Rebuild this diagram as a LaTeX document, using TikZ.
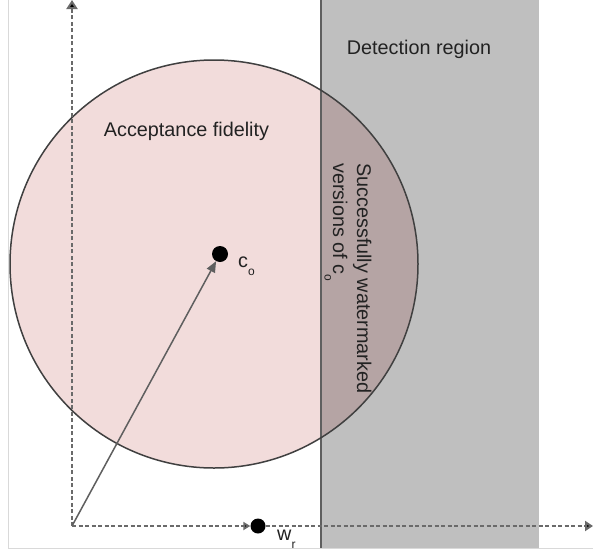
\documentclass[tikz,border=0pt]{standalone}
\usepackage{fontspec}
\setmainfont{Liberation Sans}
\usetikzlibrary{arrows.meta}
\definecolor{fidpink}{HTML}{F2DCDB}
\definecolor{axisgray}{HTML}{6A6A6A}
\definecolor{framegray}{HTML}{D9D9D9}
\definecolor{edgegray}{HTML}{5F5F5F}
\definecolor{inkdark}{HTML}{222222}
\newcommand{\lowsub}[1]{\raisebox{-0.42em}{\fontsize{12}{12}\selectfont #1}}
\tikzset{
  axisline/.style={axisgray, line width=2pt, dash pattern=on 4pt off 2.5pt},
  dotnode/.style={circle, fill=black, inner sep=0pt, minimum size=16pt},
  lbl/.style={text=inkdark, inner sep=0pt, font=\fontsize{19.8}{23.8}\selectfont},
}
\begin{document}
\begin{tikzpicture}[x=1pt, y=-1pt]
  \useasboundingbox (0,0) rectangle (593,554);
  \fill[white] (0,0) rectangle (593,554);
  % frame lines of the canvas
  \draw[framegray, line width=1pt] (8,0) -- (8,548) -- (593,548);
  % acceptance region (fill first, outline later)
  \fill[fidpink] (214,264) circle (204);
  % detection region, a translucent band
  \fill[black, opacity=0.25] (321,0) rectangle (539,548);
  \draw[edgegray, line width=1.6pt] (321,0) -- (321,548);
  \draw[black!75, line width=1.5pt] (214,264) circle (204);

  % points
  \coordinate (O) at (72,526);
  \coordinate (ytop) at (72,0);
  \coordinate (xend) at (593,526);
  \node[dotnode] (co) at (220,254) {};
  \node[dotnode, minimum size=15pt] (wr) at (258,526) {};

  % axes
  \draw[axisline, -{Triangle[length=9pt,width=11pt,fill=black]}] (O) -- (ytop);
  \draw[axisline, -{Triangle[length=7pt,width=8pt,fill=black]}] (O) -- (wr);
  \draw[axisline, -{Triangle[length=8pt,width=10pt,fill=black]}] (wr) -- (xend);
  \draw[edgegray, line width=1.5pt, -{Triangle[length=11pt,width=9pt]}, shorten <=1pt] (O) -- (co);

  % labels
  \node[lbl] (acc) at (186.5,131) {Acceptance fidelity};
  \node[lbl] (det) at (419,49) {Detection region};
  \node[lbl, rotate=-90, anchor=base west] (succa) at (357,163) {Successfully watermarked};
  \node[lbl, rotate=-90, anchor=base west] (succb) at (333,163) {versions of c\lowsub{o}};
  \node[lbl, anchor=base west] (colbl) at (238,267) {c\lowsub{o}};
  \node[lbl, anchor=base west] (wrlbl) at (277,540) {w\lowsub{r}};
\end{tikzpicture}
\end{document}
